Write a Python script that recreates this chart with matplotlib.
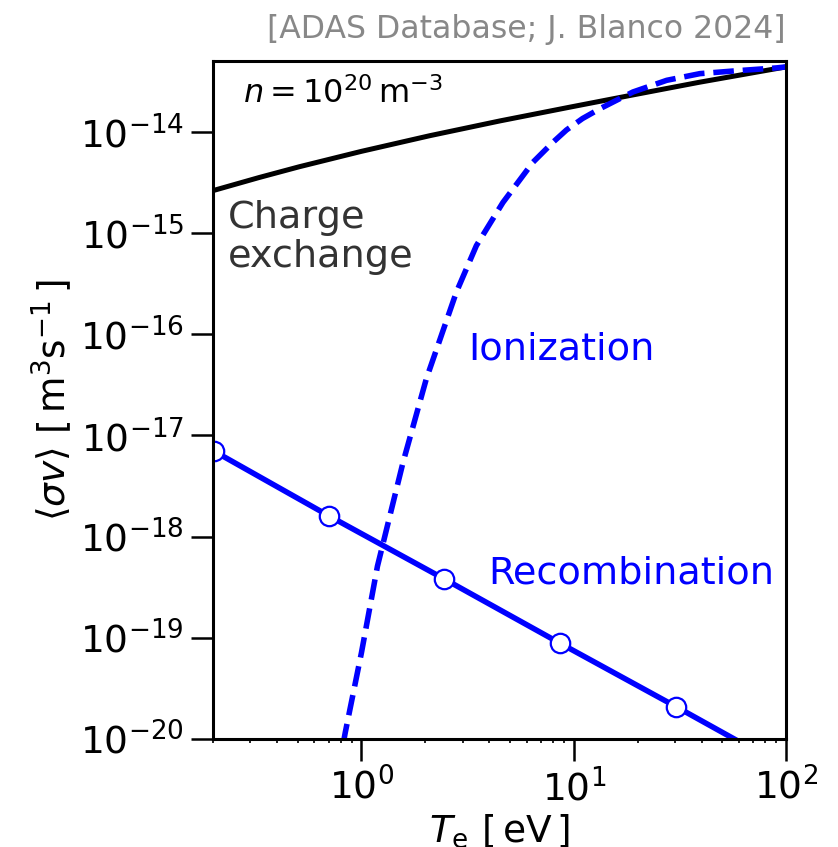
import matplotlib
matplotlib.use('Agg')
from matplotlib import pyplot as plt
from matplotlib import ticker

# charge exchange rate coefficient vs electron temperature
te_cx = [0.2, 0.33, 0.51, 1.0, 2.1, 4.5, 9.6, 19.0, 39.0, 100.0]
sv_cx = [2.62e-15, 3.53e-15, 4.51e-15, 6.4e-15, 9.14e-15, 1.28e-14,
         1.75e-14, 2.31e-14, 3.08e-14, 4.37e-14]

# ionization rate coefficient
te_ion = [0.82, 0.84, 1.0, 1.19, 1.57, 2.02, 2.80, 3.48, 4.64, 6.43, 8.0,
          9.24, 11.0, 13.3, 19.0, 27.4, 39.3, 60.0, 90.0, 100.0]
sv_ion = [8.9e-21, 1.17e-20, 7.1e-20, 5.1e-19, 5.4e-18, 3.6e-17, 2.6e-16,
          7.5e-16, 2.0e-15, 5.0e-15, 7.9e-15, 1.04e-14, 1.35e-14, 1.69e-14,
          2.47e-14, 3.22e-14, 3.75e-14, 4.02e-14, 4.27e-14, 4.37e-14]

# radiative recombination rate coefficient (last point falls below the axis)
te_rec = [0.203, 0.70, 2.44, 8.59, 30.3, 100.0]
sv_rec = [6.95e-18, 1.61e-18, 3.84e-19, 8.87e-20, 2.09e-20, 5.2e-21]

fig = plt.figure(figsize=(8.38, 8.47), dpi=100)
ax = fig.add_axes([0.2542, 0.1275, 0.6838, 0.8005])

ax.plot(te_cx, sv_cx, color='black', lw=3.6)
ax.plot(te_ion, sv_ion, color='blue', lw=4.0, ls='--')
ax.plot(te_rec, sv_rec, color='blue', lw=4.0, marker='o', markersize=14,
        markerfacecolor='white', markeredgecolor='blue', markeredgewidth=1.6,
        markevery=[0, 1, 2, 3, 4])

ax.set_xscale('log')
ax.set_yscale('log')
ax.set_xlim(0.2, 100)
ax.set_ylim(1e-20, 5e-14)
ax.yaxis.set_major_locator(ticker.LogLocator(base=10, numticks=20))
ax.yaxis.set_minor_locator(ticker.NullLocator())

for s in ax.spines.values():
    s.set_linewidth(2.2)
ax.tick_params(which='major', length=16, width=1.8, labelsize=27, pad=5)
ax.tick_params(which='minor', length=3, width=1.2)

ax.set_xlabel(r'$T_\mathrm{e}\ [\,\mathrm{eV}\,]$', fontsize=27, labelpad=3)
ax.set_ylabel(r'$\langle \sigma v \rangle\ [\,\mathrm{m^3 s^{-1}}\,]$', fontsize=27, labelpad=4)

ax.text(0.052, 0.938, r'$n = 10^{20}\,\mathrm{m}^{-3}$', transform=ax.transAxes,
        fontsize=23, va='baseline', ha='left')
ax.text(0.026, 0.795, 'Charge\nexchange', transform=ax.transAxes, fontsize=27.5,
        color='#333333', va='top', ha='left', linespacing=1.1)
ax.text(0.445, 0.560, 'Ionization', transform=ax.transAxes, fontsize=27.5,
        color='blue', va='baseline', ha='left')
ax.text(0.480, 0.230, 'Recombination', transform=ax.transAxes, fontsize=27.5,
        color='blue', va='baseline', ha='left')

fig.text(0.937, 0.955, '[ADAS Database; J. Blanco 2024]', fontsize=22.7,
         color='#888888', ha='right', va='baseline')

fig.savefig('out.png', dpi=100)
